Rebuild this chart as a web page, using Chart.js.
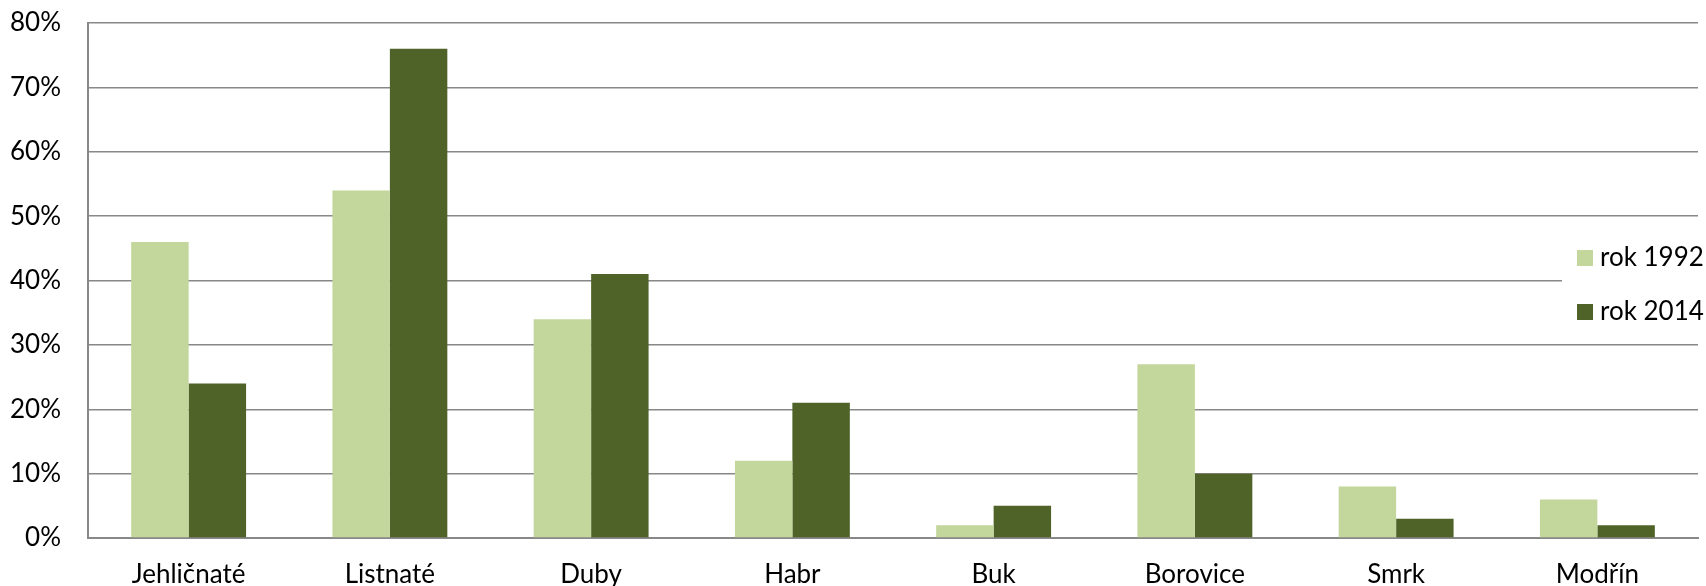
<!DOCTYPE html>
<html>
<head>
<meta charset="utf-8">
<script src="https://cdn.jsdelivr.net/npm/chart.js@4.4.1/dist/chart.umd.min.js"></script>
<style>
  html, body { margin: 0; padding: 0; background: #fff; }
  #wrap { width: 1706px; height: 586px; }
</style>
</head>
<body>
<div id="wrap"><canvas id="barChart" width="1706" height="586"></canvas></div>
<script>
// --- Datos ---
const categories = ['Jehličnaté', 'Listnaté', 'Duby', 'Habr', 'Buk', 'Borovice', 'Smrk', 'Modřín'];
const rok1992 = [46, 54, 34, 12, 2, 27, 8, 6];
const rok2014 = [24, 76, 41, 21, 5, 10, 3, 2];
const seriesLabels = ['rok 1992', 'rok 2014'];
const yTicks = [0, 10, 20, 30, 40, 50, 60, 70, 80];

const FONT = 'Lato, "Open Sans", sans-serif';
const GRID = '#888888';

// Leyenda dibujada encima del área del gráfico (como en Excel)
const overlayLegend = {
    id: 'overlayLegend',
    afterDraw(chart) {
        const ctx = chart.ctx;
        ctx.save();
        // fondo blanco que tapa las líneas de la cuadrícula
        ctx.fillStyle = '#ffffff';
        ctx.fillRect(1562, 238, 144, 94);
        ctx.font = '26px ' + FONT;
        ctx.textBaseline = 'middle';
        ctx.textAlign = 'left';
        chart.data.datasets.forEach((ds, i) => {
            const cy = 258 + i * 54;
            ctx.fillStyle = ds.backgroundColor;
            ctx.fillRect(1577, cy - 8, 16, 16);
            ctx.fillStyle = '#000';
            ctx.fillText(ds.label, 1600, cy);
        });
        ctx.restore();
    }
};

new Chart(document.getElementById('barChart'), {
    type: 'bar',
    data: {
        labels: categories,
        datasets: [
            { label: seriesLabels[0], data: rok1992, backgroundColor: '#c3d69b' },
            { label: seriesLabels[1], data: rok2014, backgroundColor: '#4f6228' }
        ]
    },
    options: {
        responsive: false,
        devicePixelRatio: 1,
        animation: false,
        layout: { padding: { top: 23, right: 8, bottom: 0, left: 0 } },
        datasets: {
            bar: { barPercentage: 1, categoryPercentage: 0.571 }
        },
        plugins: {
            legend: { display: false },
            tooltip: { enabled: false }
        },
        scales: {
            x: {
                grid: { display: false, drawTicks: false },
                border: { display: true, color: GRID, width: 2 },
                ticks: {
                    color: '#000',
                    font: { family: FONT, size: 26 },
                    padding: 21,
                    maxRotation: 0
                },
                afterFit: (scale) => { scale.height = 48; }
            },
            y: {
                min: 0,
                max: 80,
                afterBuildTicks: (scale) => { scale.ticks = yTicks.map(v => ({ value: v })); },
                grid: { color: GRID, lineWidth: 1.5, drawTicks: false },
                border: { display: true, color: GRID, width: 2 },
                ticks: {
                    color: '#000',
                    font: { family: FONT, size: 26 },
                    padding: 27,
                    callback: (val) => val + '%'
                },
                // el padding de los ticks no debe empujar el área hacia abajo
                afterFit: (scale) => {
                    scale.width = 88;
                    scale.paddingTop = 0;
                    scale.paddingBottom = 0;
                }
            }
        }
    },
    plugins: [overlayLegend]
});
</script>
</body>
</html>
